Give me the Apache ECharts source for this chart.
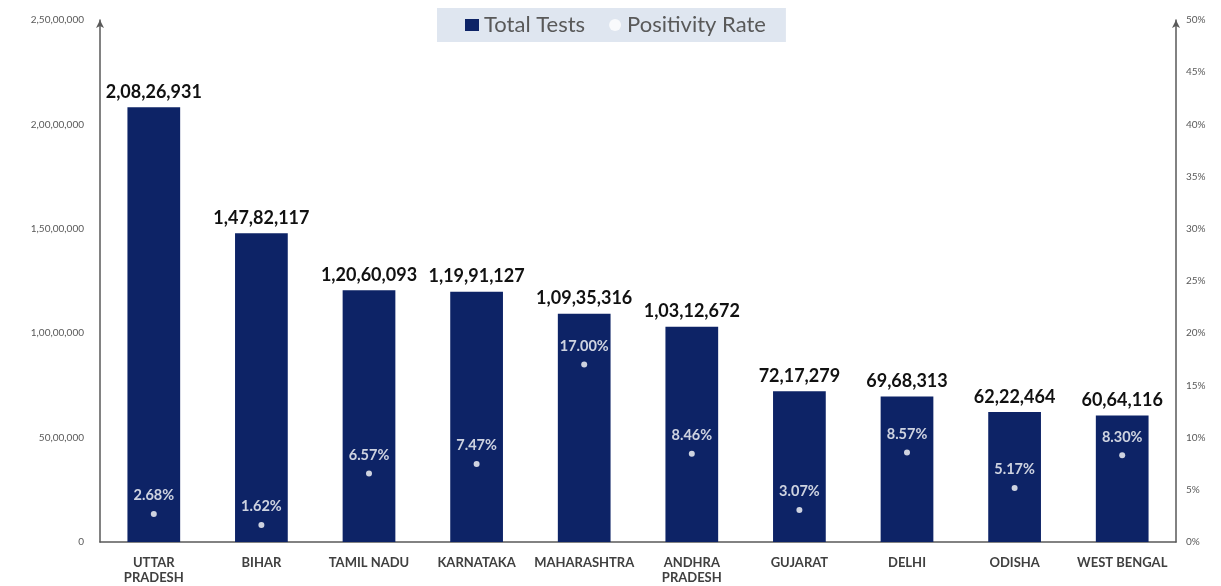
<!DOCTYPE html>
<html><head><meta charset="utf-8">
<script src="https://cdn.jsdelivr.net/npm/echarts@6/dist/echarts.min.js"></script>
<style>html,body{margin:0;padding:0;background:#fff}#c{width:1221px;height:586px}</style>
</head><body><div id="c"></div>
<script>
var categories = ['UTTAR\nPRADESH','BIHAR','TAMIL NADU','KARNATAKA','MAHARASHTRA','ANDHRA\nPRADESH','GUJARAT','DELHI','ODISHA','WEST BENGAL'];
var totalTests = [20826931,14782117,12060093,11991127,10935316,10312672,7217279,6968313,6222464,6064116];
var positivityRate = [2.68,1.62,6.57,7.47,17.00,8.46,3.07,8.57,5.17,8.30];

function indian(n){
  var s = String(Math.round(n));
  if (s.length <= 3) return s;
  var last3 = s.slice(-3), rest = s.slice(0,-3);
  rest = rest.replace(/\B(?=(\d{2})+(?!\d))/g, ',');
  return rest + ',' + last3;
}
var font = 'Lato, "Open Sans", sans-serif';
var chart = echarts.init(document.getElementById('c'));
chart.setOption({
  animation:false,
  textStyle:{fontFamily:font},
  legend:{
    top:8, left:437,
    backgroundColor:'#dfe6f0',
    padding:[6,20,6,28],
    itemGap:24,
    textStyle:{fontSize:22,color:'#595959',fontFamily:font},
    data:[{name:'Total Tests',icon:'rect',itemStyle:{color:'#0d2366'}},{name:'Positivity Rate',icon:'circle',itemStyle:{color:'#ffffff'}}],
    itemWidth:14,itemHeight:12
  },
  grid:{left:100,right:45,top:20,bottom:44},
  xAxis:{
    type:'category',data:categories,
    axisLine:{lineStyle:{color:'#595959',width:1.5}},
    axisTick:{show:false},
    axisLabel:{color:'#404040',fontSize:13,fontWeight:'bold',margin:13,lineHeight:15,interval:0,fontFamily:font}
  },
  yAxis:[{
    type:'value',min:0,max:25000000,interval:5000000,
    axisLine:{show:true,symbol:['none','arrow'],symbolSize:[6,8],lineStyle:{color:'#595959',width:1.5}},
    splitLine:{show:false},
    axisLabel:{color:'#595959',fontSize:10,margin:16,formatter:function(v){return indian(v);}}
  },{
    type:'value',min:0,max:50,interval:5,
    axisLine:{show:true,symbol:['none','arrow'],symbolSize:[6,8],lineStyle:{color:'#595959',width:1.5}},
    splitLine:{show:false},
    axisLabel:{color:'#595959',fontSize:10,margin:10,formatter:'{value}%'}
  }],
  series:[{
    name:'Total Tests',type:'bar',data:totalTests,barWidth:'49%',
    itemStyle:{color:'#0d2366'},
    label:{show:true,position:'top',distance:6,color:'#111',fontSize:18,fontWeight:'bold',fontFamily:font,formatter:function(p){return indian(p.value);}}
  },{
    name:'Positivity Rate',type:'scatter',yAxisIndex:1,data:positivityRate,
    symbol:'circle',symbolSize:6,itemStyle:{color:'#ffffff'},
    label:{show:true,position:'top',distance:8,color:'#ffffff',fontSize:14.5,fontWeight:'bold',fontFamily:font,formatter:function(p){return p.value.toFixed(2)+'%';}}
  }]
});
</script></body></html>
